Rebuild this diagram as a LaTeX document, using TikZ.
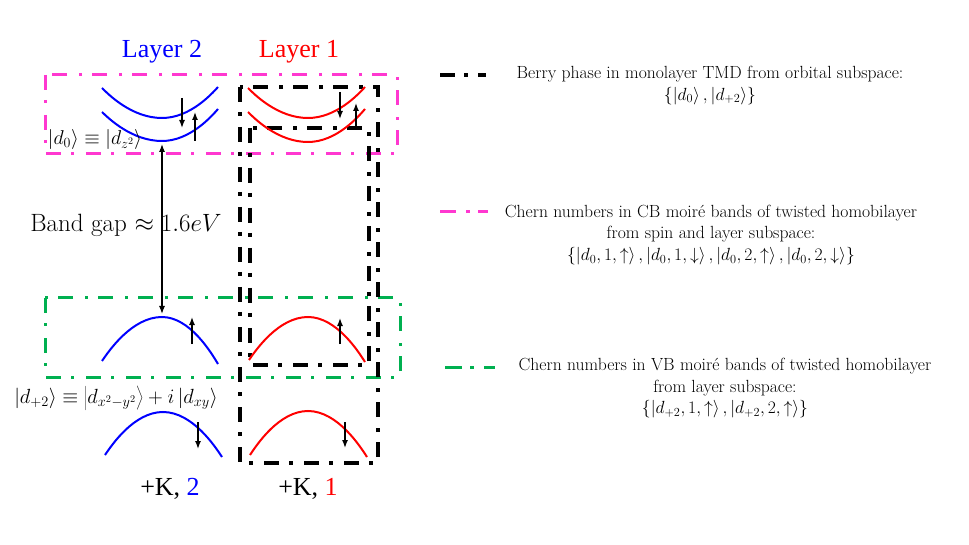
\RequirePackage{fix-cm}
\documentclass[tikz,border=0pt]{standalone}
\usepackage{fontspec}
\newfontfamily\timesfont{Liberation Serif}
\usetikzlibrary{arrows.meta}
\definecolor{magbox}{RGB}{255,56,208}
\definecolor{grnbox}{RGB}{0,176,80}
\definecolor{pureblue}{RGB}{0,0,255}
\definecolor{purered}{RGB}{255,0,0}
\tikzset{
  bandblue/.style={draw=pureblue, line width=2pt},
  bandred/.style={draw=purered, line width=2pt},
  spin/.style={draw=black, line width=1.4pt, -{Latex[length=8pt,width=6pt]}},
  gaparrow/.style={draw=black, line width=1.2pt, {Latex[length=8pt,width=6pt]}-{Latex[length=8pt,width=6pt]}},
  blackbox/.style={draw=black, line width=4pt, line join=miter, dash pattern=on 15pt off 10pt on 4pt off 11pt},
  magline/.style={draw=magbox, line width=3pt, line join=miter, dash pattern=on 15pt off 10pt on 3pt off 12pt},
  grnline/.style={draw=grnbox, line width=3pt, line join=miter, dash pattern=on 15pt off 10pt on 3pt off 12pt},
  layerlbl/.style={font=\timesfont\fontsize{26}{30}\selectfont, inner sep=0pt},
  legtext/.style={font=\fontsize{17.6}{21.5}\selectfont, align=center, inner sep=0pt},
}
\begin{document}
\begin{tikzpicture}[x=1pt,y=-1pt]
\useasboundingbox (0,0) rectangle (969,545);

% titles
\node[layerlbl, text=pureblue] (lay2) at (162,52) {Layer 2};
\node[layerlbl, text=purered] (lay1) at (299,52) {Layer 1};

% boxes
\draw[magline] (45,75) rectangle (397,154);
\draw[grnline] (45,298) rectangle (400,377);
\draw[blackbox] (240,87) rectangle (378,463);
\draw[blackbox] (250,128) rectangle (369,365);

% conduction bands
\draw[bandblue] (102,88) parabola bend (162,118) (218,87);
\draw[bandblue] (102,112) parabola bend (162,141) (218,109);
\draw[bandred] (248,88) parabola bend (308,118) (365,87);
\draw[bandred] (248,112) parabola bend (308,142) (365,109);

% valence bands
\draw[bandblue] (102,361) parabola bend (162,317) (218,364);
\draw[bandblue] (105,455) parabola bend (163,412) (222,457);
\draw[bandred] (249,360) parabola bend (308,317) (365,362);
\draw[bandred] (250,455) parabola bend (308,411) (367,457);

% spin arrows
\coordinate (s1a) at (182,98);  \coordinate (s1b) at (182,128);
\coordinate (s2a) at (195,141); \coordinate (s2b) at (195,112);
\coordinate (s3a) at (340,92);  \coordinate (s3b) at (340,119);
\coordinate (s4a) at (356,130); \coordinate (s4b) at (356,103);
\coordinate (s5a) at (192,344); \coordinate (s5b) at (192,317);
\coordinate (s6a) at (340,344); \coordinate (s6b) at (340,318);
\coordinate (s7a) at (198,422); \coordinate (s7b) at (198,449);
\coordinate (s8a) at (345,422); \coordinate (s8b) at (345,448);
\draw[spin] (s1a) -- (s1b);
\draw[spin] (s2a) -- (s2b);
\draw[spin] (s3a) -- (s3b);
\draw[spin] (s4a) -- (s4b);
\draw[spin] (s5a) -- (s5b);
\draw[spin] (s6a) -- (s6b);
\draw[spin] (s7a) -- (s7b);
\draw[spin] (s8a) -- (s8b);

% band gap
\coordinate (cbmin) at (162,144);
\coordinate (vbmax) at (162,314);
\draw[gaparrow] (cbmin) -- (vbmax);
\node[font=\fontsize{25}{29}\selectfont, inner sep=0pt] (gap) at (126,225) {Band gap $\approx 1.6eV$};

% orbital labels
\node[font=\fontsize{20}{24}\selectfont, inner sep=0pt] (d0) at (95,140) {$\left|d_0\right\rangle \equiv \left|d_{z^2}\right\rangle$};
\node[font=\fontsize{20.5}{24}\selectfont, inner sep=0pt] (d2) at (116,398) {$\left|d_{+2}\right\rangle \equiv \left|d_{x^2-y^2}\right\rangle + i\left|d_{xy}\right\rangle$};

% bottom labels
\node[layerlbl] (k2) at (170,489) {+K, \textcolor{pureblue}{2}};
\node[layerlbl] (k1) at (308,489) {+K, \textcolor{purered}{1}};

% legend
\coordinate (lg1a) at (440,75); \coordinate (lg1b) at (486,75);
\draw[draw=black, line width=4pt, dash pattern=on 15pt off 9pt on 4pt off 10pt] (lg1a) -- (lg1b);
\node[legtext] (t1) at (710,85.5) {Berry phase in monolayer TMD from orbital subspace:\\
$\left\{\left|d_0\right\rangle,\left|d_{+2}\right\rangle\right\}$};

\coordinate (lg2a) at (440,212); \coordinate (lg2b) at (488,212);
\draw[draw=magbox, line width=3pt, dash pattern=on 16pt off 10pt on 4pt off 8pt] (lg2a) -- (lg2b);
\node[legtext] (t2) at (711,235) {Chern numbers in CB moir\'e bands of twisted homobilayer\\
from spin and layer subspace:\\
$\left\{\left|d_0,1,\uparrow\right\rangle,\left|d_0,1,\downarrow\right\rangle,\left|d_0,2,\uparrow\right\rangle,\left|d_0,2,\downarrow\right\rangle\right\}$};

\coordinate (lg3a) at (445,367); \coordinate (lg3b) at (495,367);
\draw[draw=grnbox, line width=3pt, dash pattern=on 17pt off 8pt on 4pt off 10pt] (lg3a) -- (lg3b);
\node[legtext] (t3) at (725,388.5) {Chern numbers in VB moir\'e bands of twisted homobilayer\\
from layer subspace:\\
$\left\{\left|d_{+2},1,\uparrow\right\rangle,\left|d_{+2},2,\uparrow\right\rangle\right\}$};
\end{tikzpicture}
\end{document}
